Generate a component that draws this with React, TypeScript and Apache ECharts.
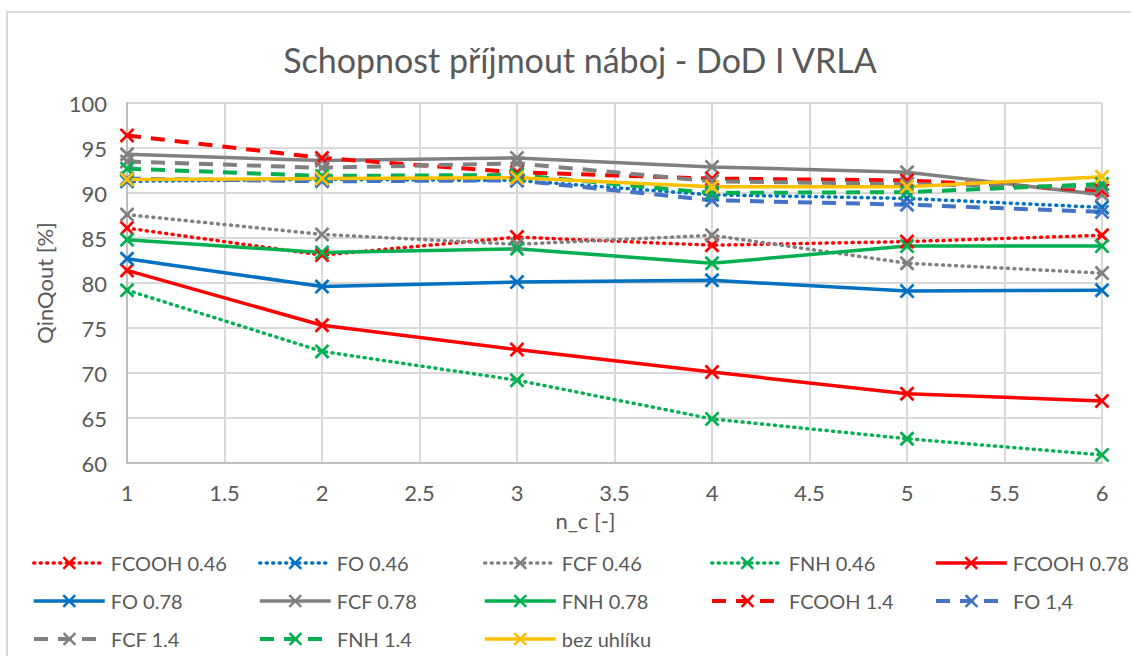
import React, { useEffect, useRef } from "react";
import * as echarts from "echarts";

const xValues = [1, 2, 3, 4, 5, 6];

const seriesNames = [
  "FCOOH 0.46", "FO 0.46", "FCF 0.46", "FNH 0.46", "FCOOH 0.78",
  "FO 0.78", "FCF 0.78", "FNH 0.78", "FCOOH 1.4", "FO 1,4",
  "FCF 1.4", "FNH 1.4", "bez uhlíku",
];

const fcooh046 = [86.1, 83.1, 85.1, 84.2, 84.6, 85.3];
const fo046 = [91.3, 91.5, 91.4, 89.8, 89.4, 88.4];
const fcf046 = [87.6, 85.4, 84.3, 85.3, 82.2, 81.1];
const fnh046 = [79.2, 72.4, 69.2, 64.9, 62.7, 60.9];
const fcooh078 = [81.4, 75.3, 72.6, 70.1, 67.7, 66.9];
const fo078 = [82.7, 79.6, 80.1, 80.3, 79.1, 79.2];
const fcf078 = [94.3, 93.6, 93.9, 92.9, 92.3, 89.8];
const fnh078 = [84.8, 83.4, 83.8, 82.2, 84.1, 84.1];
const fcooh14 = [96.4, 93.9, 92.3, 91.6, 91.4, 90.3];
const fo14 = [91.6, 91.3, 91.4, 89.2, 88.7, 87.9];
const fcf14 = [93.5, 92.8, 93.3, 91.3, 91.0, 90.6];
const fnh14 = [92.7, 91.9, 92.0, 90.0, 90.1, 91.0];
const bezUhliku = [91.5, 91.6, 91.7, 90.7, 90.7, 91.8];

const allValues = [
  fcooh046, fo046, fcf046, fnh046, fcooh078, fo078, fcf078, fnh078,
  fcooh14, fo14, fcf14, fnh14, bezUhliku,
];

const colors = [
  "#FF0000", "#0070C0", "#808080", "#00B050", "#FF0000",
  "#0070C0", "#808080", "#00B050", "#FF0000", "#4472C4",
  "#808080", "#00B050", "#FFC000",
];

const styles = [
  "dot", "dot", "dot", "dot", "solid",
  "solid", "solid", "solid", "dash", "dash",
  "dash", "dash", "solid",
];

const yTicks = { min: 60, max: 100, interval: 5 };
const xTicks = { min: 1, max: 6, interval: 0.5 };

const X_SYMBOL =
  "path://M0,1.3L1.3,0L5,3.7L8.7,0L10,1.3L6.3,5L10,8.7L8.7,10L5,6.3L1.3,10L0,8.7L3.7,5Z";

const FONT = "Lato, 'Liberation Sans', sans-serif";
const TEXT = "#595959";

export default function App() {
  const ref = useRef<HTMLDivElement>(null);

  useEffect(() => {
    if (!ref.current) return;
    const chart = echarts.init(ref.current, undefined, { renderer: "svg" });

    const lineStyles = styles.map((st, i) => {
      const ls: any = { color: colors[i], width: 3.5 };
      if (st === "dot") {
        ls.type = [1, 5.5];
        ls.cap = "round";
        ls.width = 3.5;
      } else if (st === "dash") {
        ls.type = [14, 10];
        ls.width = 4;
      }
      return ls;
    });

    const series = seriesNames.map((name, i) => ({
      name,
      type: "line",
      data: xValues.map((x, j) => [x, allValues[i][j]]),
      symbol: X_SYMBOL,
      symbolSize: 15,
      showSymbol: true,
      itemStyle: { color: colors[i] },
      lineStyle: lineStyles[i],
      emphasis: { disabled: true },
    }));

    const colX = [32, 258, 483, 710, 934];
    const rowY = [565, 603, 641];
    const legends = seriesNames.map((name, i) => ({
      data: [name],
      left: colX[i % 5],
      top: rowY[Math.floor(i / 5)] - 12,
      itemWidth: 71,
      itemHeight: 17,
      itemGap: 0,
      padding: 0,
      lineStyle: { width: lineStyles[i].width, type: lineStyles[i].type, cap: lineStyles[i].cap || "butt" },
      textStyle: { fontFamily: FONT, fontSize: 20, color: TEXT, padding: [0, 0, 0, 1] },
      selectedMode: false,
    }));

    chart.setOption({
      animation: false,
      backgroundColor: "#ffffff",
      title: {
        text: "Schopnost příjmout náboj - DoD I VRLA",
        left: 575,
        textAlign: "center",
        top: 37,
        textStyle: { fontFamily: FONT, fontSize: 34, fontWeight: "normal", color: TEXT },
      },
      graphic: [
        {
          type: "rect",
          shape: { x: 7, y: 12, width: 1200, height: 700 },
          style: { fill: "none", stroke: "#d9d9d9", lineWidth: 2 },
          silent: true,
        },
      ],
      legend: legends,
      grid: { left: 127, right: 29, top: 103, bottom: 193, containLabel: false },
      xAxis: {
        type: "value",
        min: xTicks.min,
        max: xTicks.max,
        interval: xTicks.interval,
        name: "n_c [-]",
        nameLocation: "middle",
        nameGap: 46,
        nameTextStyle: { fontFamily: FONT, fontSize: 22, color: TEXT, padding: [0, 58, 0, 0] },
        axisLine: { show: true, onZero: false, lineStyle: { color: "#bfbfbf", width: 2 } },
        axisTick: { show: false },
        axisLabel: { fontFamily: FONT, fontSize: 22, color: TEXT, margin: 18 },
        splitLine: { show: true, lineStyle: { color: "#d9d9d9", width: 2 } },
      },
      yAxis: {
        type: "value",
        min: yTicks.min,
        max: yTicks.max,
        interval: yTicks.interval,
        name: "QinQout [%]",
        nameLocation: "middle",
        nameGap: 72,
        nameTextStyle: { fontFamily: FONT, fontSize: 22, color: TEXT },
        axisLine: { show: true, lineStyle: { color: "#bfbfbf", width: 2 } },
        axisTick: { show: false },
        axisLabel: { fontFamily: FONT, fontSize: 22, color: TEXT, margin: 20 },
        splitLine: { show: true, lineStyle: { color: "#d9d9d9", width: 2 } },
      },
      series,
    });

    return () => chart.dispose();
  }, []);

  return (
    <div
      ref={ref}
      style={{ position: "fixed", left: 0, top: 0, width: 1131, height: 656, background: "#fff" }}
    />
  );
}
